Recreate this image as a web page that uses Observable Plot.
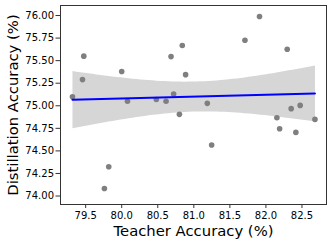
<!DOCTYPE html>
<html>
<head>
<meta charset="utf-8">
<script src="https://cdn.jsdelivr.net/npm/d3@7"></script>
<script src="https://cdn.jsdelivr.net/npm/@observablehq/plot@0.6"></script>
<style>
  html, body { margin: 0; padding: 0; background: #fff; }
  #chart svg { display: block; font-family: "DejaVu Sans", sans-serif; }
</style>
</head>
<body>
<div id="chart"></div>
<script>
const teacherAcc = [79.317, 79.474, 79.456, 80.00, 80.08, 80.48, 80.615, 80.684, 80.84, 80.886,
  80.72, 80.80, 81.187, 81.709, 81.911, 82.295, 82.35, 82.475, 82.152, 82.68,
  81.247, 82.19, 82.415, 79.82, 79.76];
const distillAcc = [75.10, 75.55, 75.29, 75.38, 75.05, 75.07, 75.05, 75.545, 75.667, 75.345,
  75.13, 74.905, 75.027, 75.726, 75.989, 75.626, 74.968, 75.004, 74.868, 74.849,
  74.565, 74.746, 74.705, 74.324, 74.083];
const xTicks = [79.5, 80.0, 80.5, 81.0, 81.5, 82.0, 82.5];
const yTicks = [74.00, 74.25, 74.50, 74.75, 75.00, 75.25, 75.50, 75.75, 76.00];
const xLabel = "Teacher Accuracy (%)";
const yLabel = "Distillation Accuracy (%)";

const data = teacherAcc.map((t, i) => ({t, d: distillAcc[i]}));

const chart = Plot.plot({
  width: 332,
  height: 243,
  marginLeft: 60,
  marginRight: 6,
  marginTop: 5,
  marginBottom: 39,
  style: {fontFamily: "DejaVu Sans, sans-serif", color: "#000", background: "#fff"},
  x: {domain: [79.151, 82.84]},
  y: {domain: [73.906, 76.111]},
  marks: [
    Plot.linearRegressionY(data, {x: "t", y: "d", ci: 0.92, stroke: "none", fill: "#d6d6d6", fillOpacity: 1}),
    Plot.dot(data, {x: "t", y: "d", r: 2.8, fill: "#7f7f7f", stroke: "none"}),
    Plot.linearRegressionY(data, {x: "t", y: "d", ci: 0, stroke: "#0000ff", strokeWidth: 2}),
    Plot.frame({stroke: "#333", strokeWidth: 1}),
    Plot.axisX({ticks: xTicks, tickFormat: d3.format(".1f"), tickSize: 4, tickPadding: 3, fontSize: 10, label: null, stroke: "#333"}),
    Plot.axisY({ticks: yTicks, tickFormat: d3.format(".2f"), tickSize: 4.5, tickPadding: 2, fontSize: 10, label: null, stroke: "#333"}),
    Plot.text([xLabel], {frameAnchor: "bottom", lineAnchor: "top", dy: 21, fontSize: 14.8, textAnchor: "middle", fill: "#000"}),
    Plot.text([yLabel], {frameAnchor: "left", rotate: -90, lineAnchor: "bottom", dx: -42.7, fontSize: 14.8, textAnchor: "middle", fill: "#000"})
  ]
});
document.getElementById("chart").appendChild(chart);
</script>
</body>
</html>
